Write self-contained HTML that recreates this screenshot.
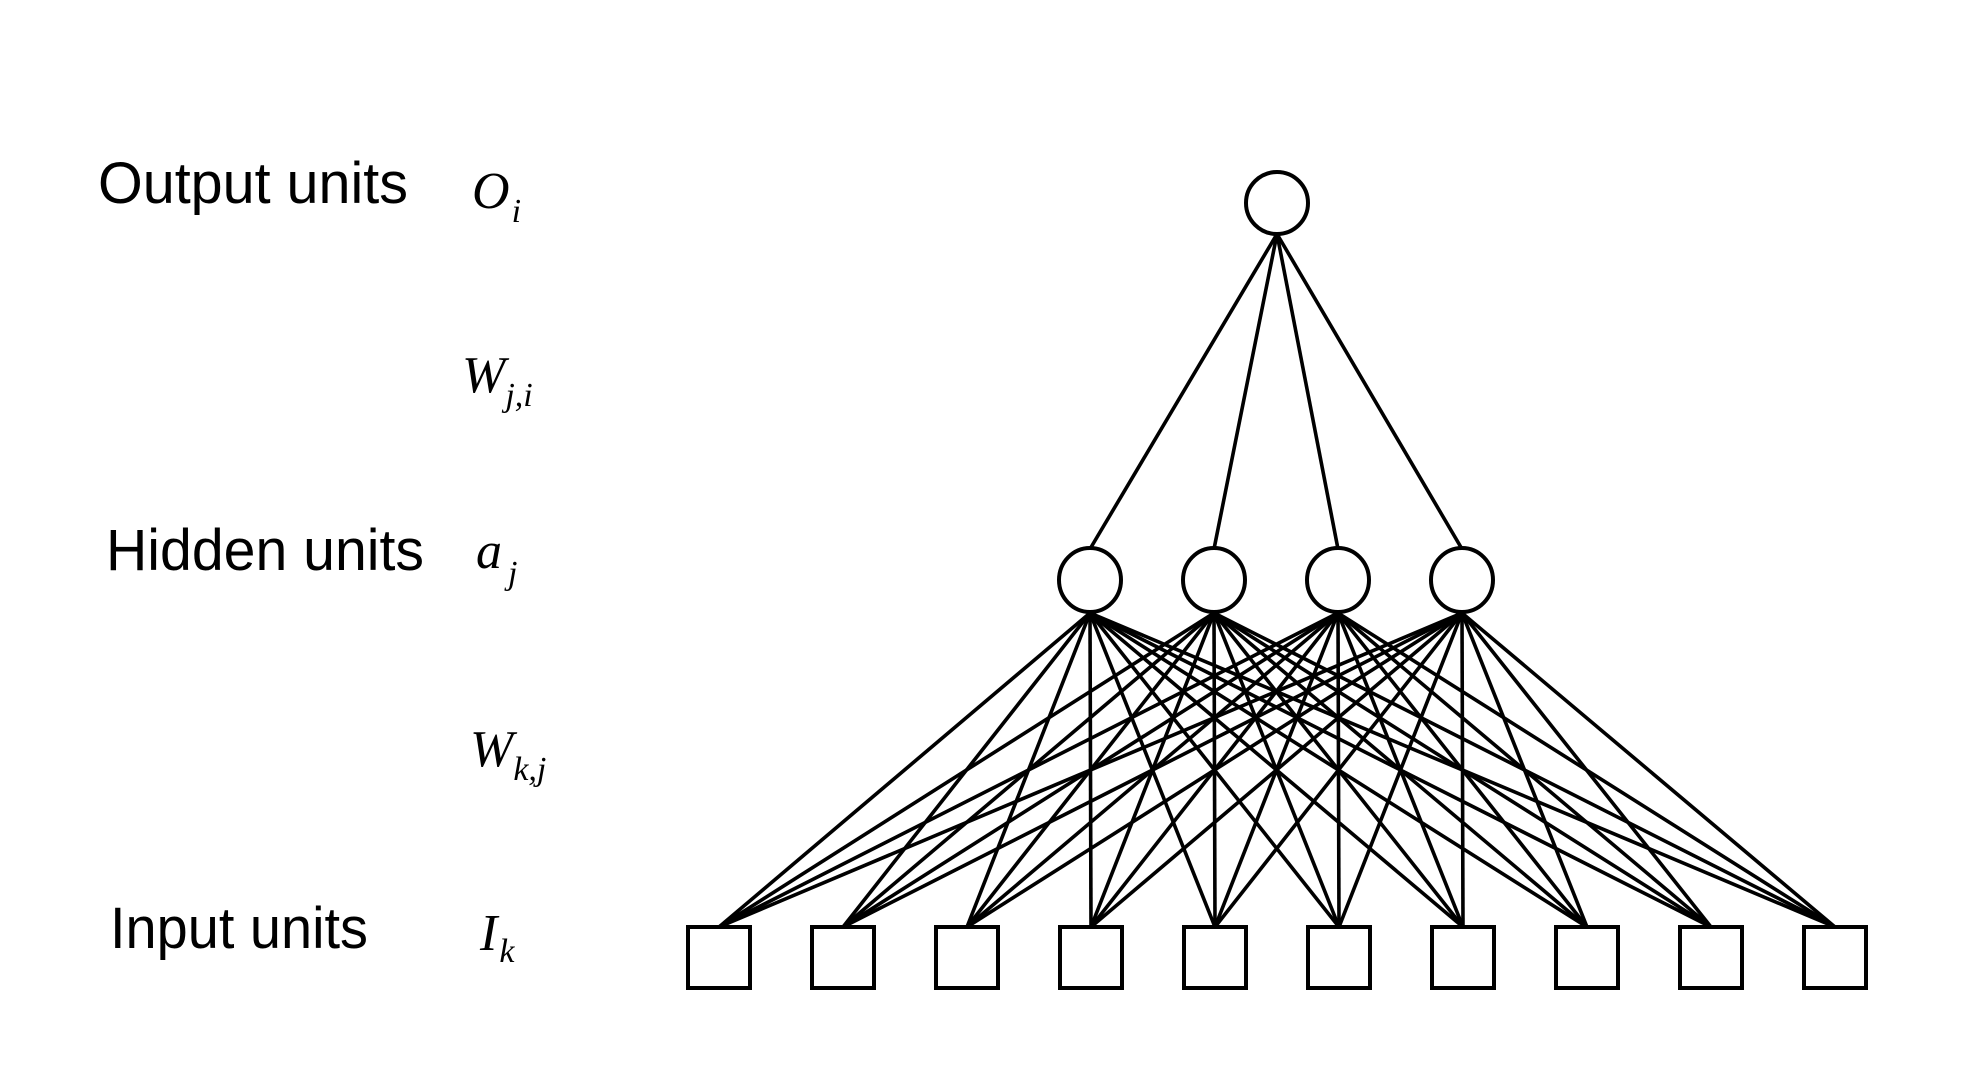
<!DOCTYPE html>
<html><head><meta charset="utf-8"><style>
html,body{margin:0;padding:0;background:#fff;}
svg{display:block;}
.lab{font-family:"Liberation Sans",sans-serif;font-size:58px;fill:#000;}
.m{font-family:"Liberation Serif",serif;font-style:italic;font-size:52px;fill:#000;}
.s{font-size:34px;}
</style></head><body>
<svg id="net" width="1982" height="1082" viewBox="0 0 1982 1082" xmlns="http://www.w3.org/2000/svg">
<rect width="1982" height="1082" fill="#fff"/>
<text class="lab" x="98" y="203" textLength="310" lengthAdjust="spacingAndGlyphs">Output units</text>
<text class="lab" x="106" y="570" textLength="318" lengthAdjust="spacingAndGlyphs">Hidden units</text>
<text class="lab" x="110" y="948" textLength="258" lengthAdjust="spacingAndGlyphs">Input units</text>
<text class="m" x="472" y="208">O<tspan class="s" dx="2" dy="14">i</tspan></text>
<text class="m" x="462" y="392">W<tspan class="s" dx="0" dy="14">j,i</tspan></text>
<text class="m" x="476" y="568">a<tspan class="s" dx="6" dy="16">j</tspan></text>
<text class="m" x="470" y="766">W<tspan class="s" dx="0" dy="14">k,j</tspan></text>
<text class="m" x="480" y="950">I<tspan class="s" dx="2" dy="12">k</tspan></text>
<g id="edges" stroke="#000" stroke-width="3.6" fill="none"></g>
<g id="nodes" stroke="#000" stroke-width="4" fill="#fff"></g>
</svg>
<script>
const outputUnits = [0];
const hiddenUnits = [0, 1, 2, 3];
const inputUnits = [0, 1, 2, 3, 4, 5, 6, 7, 8, 9];
const NS = "http://www.w3.org/2000/svg";
const edges = document.getElementById('edges');
const nodes = document.getElementById('nodes');
function outX(i){ return 1277; }
function hidX(j){ return 1090 + j * 124; }
function inX(k){ return 719 + k * 124; }
const outY = 203, hidY = 580, inTop = 927;
function line(x1,y1,x2,y2,name){
  const l = document.createElementNS(NS,'line');
  l.setAttribute('x1',x1); l.setAttribute('y1',y1); l.setAttribute('x2',x2); l.setAttribute('y2',y2);
  
  
  edges.appendChild(l);
}
outputUnits.forEach(i => hiddenUnits.forEach(j => line(outX(i), outY+31, hidX(j), hidY-31, 'weight-hidden-output')));
hiddenUnits.forEach(j => inputUnits.forEach(k => line(hidX(j), hidY+33, inX(k), inTop, 'weight-input-hidden')));
outputUnits.forEach(i => {
  const c = document.createElementNS(NS,'ellipse');
  c.setAttribute('cx', outX(i)); c.setAttribute('cy', outY); c.setAttribute('rx', 31); c.setAttribute('ry', 31);
  
  
  nodes.appendChild(c);
});
hiddenUnits.forEach(j => {
  const c = document.createElementNS(NS,'ellipse');
  c.setAttribute('cx', hidX(j)); c.setAttribute('cy', hidY); c.setAttribute('rx', 31); c.setAttribute('ry', 32);
  
  
  nodes.appendChild(c);
});
inputUnits.forEach(k => {
  const r = document.createElementNS(NS,'rect');
  r.setAttribute('x', inX(k)-31); r.setAttribute('y', inTop); r.setAttribute('width', 62); r.setAttribute('height', 61);
  
  
  nodes.appendChild(r);
});
</script>
</body></html>
